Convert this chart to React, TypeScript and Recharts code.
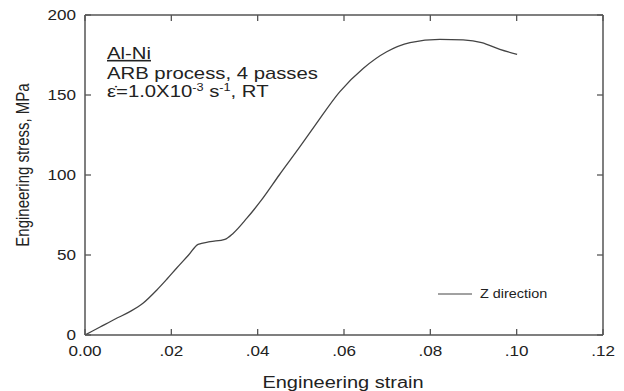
import { LineChart, Line, XAxis, YAxis, Customized } from 'recharts';

// Tensile curve, Al-Ni ARB 4 passes, Z direction
const strain = [
  0, 0.0035, 0.007, 0.0104, 0.0135, 0.0166, 0.019, 0.0212, 0.024, 0.0262,
  0.029, 0.0324, 0.0343, 0.0375, 0.0409, 0.045, 0.0498, 0.0533, 0.059, 0.0645,
  0.0699, 0.0753, 0.0822, 0.0876, 0.0919, 0.0961, 0.1001,
];
const stress = [
  0, 5, 10, 14.6, 20, 28, 35, 41.7, 50, 56.7,
  58.3, 59.8, 63.5, 73, 84.4, 100, 117.7, 131, 152, 166.7,
  177, 182.7, 184.8, 184.4, 182.7, 178.5, 175.4,
];
const xTicks = [0, 0.02, 0.04, 0.06, 0.08, 0.1, 0.12];
const yTicks = [0, 50, 100, 150, 200];
const seriesName = 'Z direction';

const data = strain.map((s, i) => ({ strain: s, stress: stress[i] }));

const FONT = '"Liberation Sans", Arial, sans-serif';
const INK = '#222';
const FRAME = '#555';
const TICK = 6;
const W = 624;
const H = 391;
const MARGIN = { top: 0, right: 20, bottom: 0, left: 0 };
const TOP_H = 15;
const BOTTOM_H = 56;
const PLOT_H = H - TOP_H - BOTTOM_H;
// the source picture is stretched sideways, so horizontal text is widened
const SX = 1.22;

const fmtStrain = (v: number) => (v === 0 ? '0.00' : v.toFixed(2).replace(/^0/, ''));

// ticks point into the plot; the bottom tick also marks the top edge
function BottomTick({ x, y, payload }: any) {
  const top = y - PLOT_H;
  return (
    <g>
      <line x1={x} y1={y} x2={x} y2={y - TICK} stroke={FRAME} strokeWidth={1.3} />
      <line x1={x} y1={top} x2={x} y2={top + TICK} stroke={FRAME} strokeWidth={1.3} />
      <text
        transform={`translate(${x},${y + 21}) scale(${SX},1)`}
        textAnchor="middle"
        fontSize={14}
        fontFamily={FONT}
        fill={INK}
      >
        {fmtStrain(payload.value)}
      </text>
    </g>
  );
}

function LeftTick({ x, y, payload }: any) {
  return (
    <g>
      <line x1={x} y1={y} x2={x + TICK} y2={y} stroke={FRAME} strokeWidth={1.3} />
      <text
        transform={`translate(${x - 9},${y + 5}) scale(${SX},1)`}
        textAnchor="end"
        fontSize={14}
        fontFamily={FONT}
        fill={INK}
      >
        {payload.value}
      </text>
    </g>
  );
}

function RightTick({ x, y }: any) {
  return <line x1={x} y1={y} x2={x - TICK} y2={y} stroke={FRAME} strokeWidth={1.3} />;
}

function Notes() {
  return (
    <g fontFamily={FONT} fill={INK}>
      <g transform={`translate(107,59) scale(1.27,1)`} fontSize={16}>
        <text x={0} y={0} textDecoration="underline">Al-Ni</text>
        <text x={0} y={20}>ARB process, 4 passes</text>
        <text x={0} y={38}>
          ε̇=1.0X10
          <tspan fontSize={10} dy={-6}>-3</tspan>
          <tspan dy={6}> s</tspan>
          <tspan fontSize={10} dy={-6}>-1</tspan>
          <tspan dy={6}>, RT</tspan>
        </text>
      </g>
      <text
        transform={`translate(343,388) scale(1.25,1)`}
        textAnchor="middle"
        fontSize={16}
      >
        Engineering strain
      </text>
      <text
        transform={`translate(29,165) scale(1.25,1) rotate(-90)`}
        textAnchor="middle"
        fontSize={15}
      >
        Engineering stress, MPa
      </text>
      <line x1={438} y1={294} x2={472} y2={294} stroke="#444" strokeWidth={1} />
      <text transform={`translate(480,298) scale(1.2,1)`} fontSize={12}>
        {seriesName}
      </text>
    </g>
  );
}

const axisLine = { stroke: FRAME, strokeWidth: 1.5 };

export default function App() {
  return (
    <div style={{ position: 'absolute', left: 0, top: 0, background: '#fff' }}>
      <LineChart width={W} height={H} data={data} margin={MARGIN}>
        <XAxis
          dataKey="strain"
          type="number"
          domain={[0, 0.12]}
          ticks={xTicks}
          allowDataOverflow
          height={BOTTOM_H}
          tickSize={0}
          tickMargin={0}
          tickLine={false}
          tick={<BottomTick />}
          axisLine={axisLine}
        />
        <XAxis
          xAxisId="top"
          orientation="top"
          type="number"
          domain={[0, 0.12]}
          height={TOP_H}
          tick={false}
          tickLine={false}
          axisLine={axisLine}
        />
        <YAxis
          type="number"
          domain={[0, 200]}
          ticks={yTicks}
          allowDataOverflow
          width={85}
          tickSize={0}
          tickMargin={0}
          tickLine={false}
          tick={<LeftTick />}
          axisLine={axisLine}
        />
        <YAxis
          yAxisId="right"
          orientation="right"
          type="number"
          domain={[0, 200]}
          ticks={yTicks}
          allowDataOverflow
          width={1}
          tickSize={0}
          tickMargin={0}
          tickLine={false}
          tick={<RightTick />}
          axisLine={axisLine}
        />
        <Line
          type="monotone"
          dataKey="stress"
          name={seriesName}
          stroke="#444"
          strokeWidth={1.3}
          dot={false}
          isAnimationActive={false}
        />
        <Customized component={<Notes />} />
      </LineChart>
    </div>
  );
}
